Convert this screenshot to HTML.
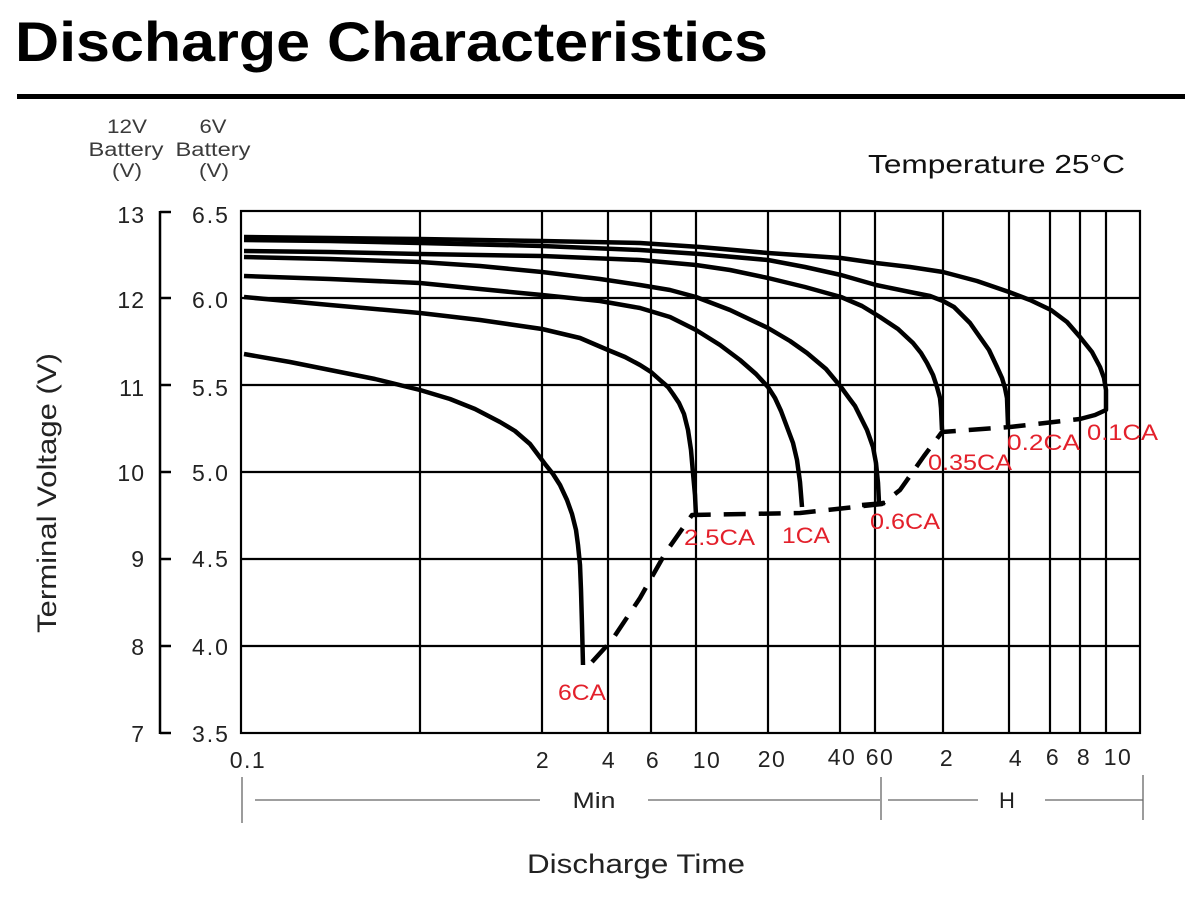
<!DOCTYPE html>
<html>
<head>
<meta charset="utf-8">
<style>
  html,body{margin:0;padding:0;background:#fff;}
  svg{display:block;}
  text{font-family:"Liberation Sans", sans-serif;}
</style>
</head>
<body>
<svg width="1200" height="900" viewBox="0 0 1200 900" xmlns="http://www.w3.org/2000/svg">
  <rect width="1200" height="900" fill="#fff"/>
  <!-- Title -->
  <text x="15" y="61" font-size="56" font-weight="bold" fill="#000" textLength="753" lengthAdjust="spacingAndGlyphs">Discharge Characteristics</text>
  <rect x="17" y="94" width="1168" height="5" fill="#000"/>

  <!-- Axis header labels -->
  <g font-size="19" fill="#3a3a3a" text-anchor="middle">
    <text x="127" y="133" textLength="40" lengthAdjust="spacingAndGlyphs">12V</text>
    <text x="126" y="156" textLength="75" lengthAdjust="spacingAndGlyphs">Battery</text>
    <text x="127" y="177" textLength="30" lengthAdjust="spacingAndGlyphs">(V)</text>
    <text x="213" y="133" textLength="27" lengthAdjust="spacingAndGlyphs">6V</text>
    <text x="213" y="156" textLength="75" lengthAdjust="spacingAndGlyphs">Battery</text>
    <text x="214" y="177" textLength="30" lengthAdjust="spacingAndGlyphs">(V)</text>
  </g>
  <text x="868" y="173" font-size="26" fill="#111" textLength="257" lengthAdjust="spacingAndGlyphs">Temperature 25°C</text>

  <!-- Left 12V axis -->
  <g stroke="#000" stroke-width="2.5" fill="none">
    <line x1="160" y1="211" x2="160" y2="734"/>
    <line x1="160" y1="212" x2="171" y2="212"/>
    <line x1="160" y1="298" x2="171" y2="298"/>
    <line x1="160" y1="385" x2="171" y2="385"/>
    <line x1="160" y1="472" x2="171" y2="472"/>
    <line x1="160" y1="559" x2="171" y2="559"/>
    <line x1="160" y1="646" x2="171" y2="646"/>
    <line x1="160" y1="733" x2="171" y2="733"/>
  </g>
  <g font-size="23" fill="#222">
    <g text-anchor="end" letter-spacing="1">
      <text x="145" y="223">13</text>
      <text x="145" y="308">12</text>
      <text x="145" y="396">11</text>
      <text x="145" y="481">10</text>
      <text x="145" y="567">9</text>
      <text x="145" y="655">8</text>
      <text x="145" y="742">7</text>
    </g>
    <g text-anchor="middle" letter-spacing="2">
      <text x="211" y="223">6.5</text>
      <text x="211" y="308">6.0</text>
      <text x="211" y="396">5.5</text>
      <text x="211" y="481">5.0</text>
      <text x="211" y="567">4.5</text>
      <text x="211" y="655">4.0</text>
      <text x="211" y="742">3.5</text>
    </g>
  </g>
  <text transform="translate(56,493) rotate(-90)" font-size="27" fill="#222" text-anchor="middle" textLength="280" lengthAdjust="spacingAndGlyphs">Terminal Voltage (V)</text>

  <!-- Grid -->
  <g stroke="#000" stroke-width="2.2" fill="none">
    <rect x="241" y="211" width="899" height="522"/>
    <line x1="241" y1="298" x2="1140" y2="298"/>
    <line x1="241" y1="385" x2="1140" y2="385"/>
    <line x1="241" y1="472" x2="1140" y2="472"/>
    <line x1="241" y1="559" x2="1140" y2="559"/>
    <line x1="241" y1="646" x2="1140" y2="646"/>
    <line x1="420" y1="211" x2="420" y2="733"/>
    <line x1="542" y1="211" x2="542" y2="733"/>
    <line x1="608" y1="211" x2="608" y2="733"/>
    <line x1="651" y1="211" x2="651" y2="733"/>
    <line x1="696" y1="211" x2="696" y2="733"/>
    <line x1="768" y1="211" x2="768" y2="733"/>
    <line x1="840" y1="211" x2="840" y2="733"/>
    <line x1="875" y1="211" x2="875" y2="733"/>
    <line x1="943" y1="211" x2="943" y2="733"/>
    <line x1="1009" y1="211" x2="1009" y2="733"/>
    <line x1="1050" y1="211" x2="1050" y2="733"/>
    <line x1="1080" y1="211" x2="1080" y2="733"/>
    <line x1="1106" y1="211" x2="1106" y2="733"/>
  </g>

  <!-- Curves -->
  <g stroke="#000" stroke-width="4.5" fill="none" stroke-linejoin="round" stroke-linecap="butt">
    <!-- 6CA -->
    <polyline points="244,354 290,362 330,370 375,379 420,390 450,399 475,409 500,422 515,431 530,444 545,464 553,474 560,485 567,500 572,514 576,530 578,545 580,565 581,590 582,625 583,665"/>
    <!-- 2.5CA -->
    <polyline points="244,297 330,305 420,313 480,320 542,329 580,338 608,350 625,357 640,365 651,372 660,380 668,387 673,394 679,403 684,414 688,430 691,450 693,473 695,495 696,516"/>
    <!-- 1CA -->
    <polyline points="244,276 330,279 420,283 480,289 542,295 600,301 640,308 670,317 696,330 720,345 740,360 756,374 768,387 775,398 781,411 787,427 793,443 797,460 800,482 802,507"/>
    <!-- 0.6CA -->
    <polyline points="244,257 330,259 420,262 480,266 542,272 600,279 640,285 670,290 696,297 730,310 768,328 790,341 807,353 826,369 841,387 849,398 855,406 861,418 867,430 873,447 876,463 878,483 879,503"/>
    <polyline points="862,505 885,503"/>
    <!-- 0.35CA -->
    <polyline points="244,251 330,252 420,254 542,256 640,260 696,265 730,270 768,278 805,287 841,297 862,306 880,317 898,329 913,343 921,353 927,363 933,375 937,387 940,398 941,408 942,430"/>
    <!-- 0.2CA -->
    <polyline points="244,240 330,241 420,243 542,246 640,250 700,254 768,260 805,267 841,275 876,285 910,292 930,296 943,301 954,307 962,315 970,323 977,333 989,350 997,367 1002,378 1005,388 1007,398 1008,425"/>
    <!-- 0.1CA -->
    <polyline points="244,237 330,238 420,239 542,241 640,243 700,247 768,253 841,258 876,263 910,267 943,272 977,281 1009,292 1030,300 1051,310 1067,322 1080,337 1092,352 1100,367 1104,378 1106,390 1106,410 1095,415 1080,419"/>
  </g>
  <!-- Dashed end-voltage line -->
  <polyline points="592,662 612,640 640,598 666,552 692,515 800,513 882,504 900,490 924,456 942,432 1010,427 1080,419" stroke="#000" stroke-width="4.5" fill="none" stroke-dasharray="22 13" stroke-linejoin="round"/>

  <!-- Red labels -->
  <g font-size="22" fill="#e3202b">
    <text x="558" y="700" textLength="48" lengthAdjust="spacingAndGlyphs">6CA</text>
    <text x="684" y="545" textLength="71" lengthAdjust="spacingAndGlyphs">2.5CA</text>
    <text x="782" y="543" textLength="48" lengthAdjust="spacingAndGlyphs">1CA</text>
    <text x="870" y="529" textLength="70" lengthAdjust="spacingAndGlyphs">0.6CA</text>
    <text x="928" y="470" textLength="84" lengthAdjust="spacingAndGlyphs">0.35CA</text>
    <text x="1007" y="450" textLength="73" lengthAdjust="spacingAndGlyphs">0.2CA</text>
    <text x="1087" y="440" textLength="71" lengthAdjust="spacingAndGlyphs">0.1CA</text>
  </g>

  <!-- X tick labels -->
  <g font-size="23" fill="#222" text-anchor="middle" letter-spacing="1.5">
    <text x="248" y="768">0.1</text>
    <text x="543" y="768">2</text>
    <text x="609" y="768">4</text>
    <text x="653" y="768">6</text>
    <text x="707" y="768">10</text>
    <text x="772" y="767">20</text>
    <text x="842" y="765">40</text>
    <text x="880" y="765">60</text>
    <text x="947" y="766">2</text>
    <text x="1016" y="766">4</text>
    <text x="1053" y="765">6</text>
    <text x="1084" y="765">8</text>
    <text x="1118" y="765">10</text>
  </g>

  <!-- Min / H brackets -->
  <g stroke="#666" stroke-width="1.3" fill="none">
    <line x1="242" y1="777" x2="242" y2="823"/>
    <line x1="255" y1="800" x2="540" y2="800"/>
    <line x1="648" y1="800" x2="880" y2="800"/>
    <line x1="881" y1="777" x2="881" y2="820"/>
    <line x1="888" y1="800" x2="978" y2="800"/>
    <line x1="1045" y1="800" x2="1143" y2="800"/>
    <line x1="1143" y1="775" x2="1143" y2="820"/>
  </g>
  <g font-size="22" fill="#222" text-anchor="middle">
    <text x="594" y="808" textLength="43" lengthAdjust="spacingAndGlyphs">Min</text>
    <text x="1007" y="808">H</text>
  </g>

  <text x="636" y="873" font-size="27" fill="#222" text-anchor="middle" textLength="218" lengthAdjust="spacingAndGlyphs">Discharge Time</text>
</svg>
</body>
</html>
